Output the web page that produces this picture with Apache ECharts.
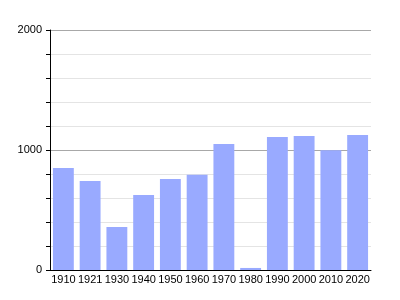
<!DOCTYPE html>
<html><head><meta charset="utf-8">
<script src="https://cdn.jsdelivr.net/npm/echarts@6/dist/echarts.min.js"></script>
<style>html,body{margin:0;padding:0;background:#fff}#c{width:400px;height:300px}</style>
</head><body><div id="c"></div>
<script>
const categories = ['1910','1921','1930','1940','1950','1960','1970','1980','1990','2000','2010','2020'];
const values = [850, 742, 358, 625, 758, 794, 1050, 17, 1108, 1117, 998, 1125];
const yLabels = [0, 1000, 2000];

const chart = echarts.init(document.getElementById('c'), null, {renderer: 'canvas'});
chart.setOption({
  animation: false,
  textStyle: {fontFamily: 'Liberation Sans, Arial, sans-serif'},
  grid: {left: 50, right: 29, top: 30, bottom: 30, containLabel: false},
  xAxis: {
    type: 'category',
    data: categories,
    axisLine: {lineStyle: {color: '#000', width: 1}},
    axisTick: {show: false},
    axisLabel: {interval: 0, color: '#000', fontSize: 11, margin: 4}
  },
  yAxis: {
    type: 'value',
    min: 0, max: 2000, interval: 200,
    axisLine: {show: true, lineStyle: {color: '#000', width: 1}},
    axisTick: {show: true, length: 4, lineStyle: {color: '#000'}},
    axisLabel: {
      color: '#000', fontSize: 11, margin: 8,
      formatter: v => yLabels.includes(v) ? String(v) : ''
    },
    splitLine: {show: true, lineStyle: {color: ['#a8a8a8','#e4e4e4','#e4e4e4','#e4e4e4','#e4e4e4'], width: 1}}
  },
  series: [{
    type: 'bar',
    data: values,
    barCategoryGap: '22%',
    itemStyle: {color: '#99aaff'}
  }]
});
</script></body></html>
